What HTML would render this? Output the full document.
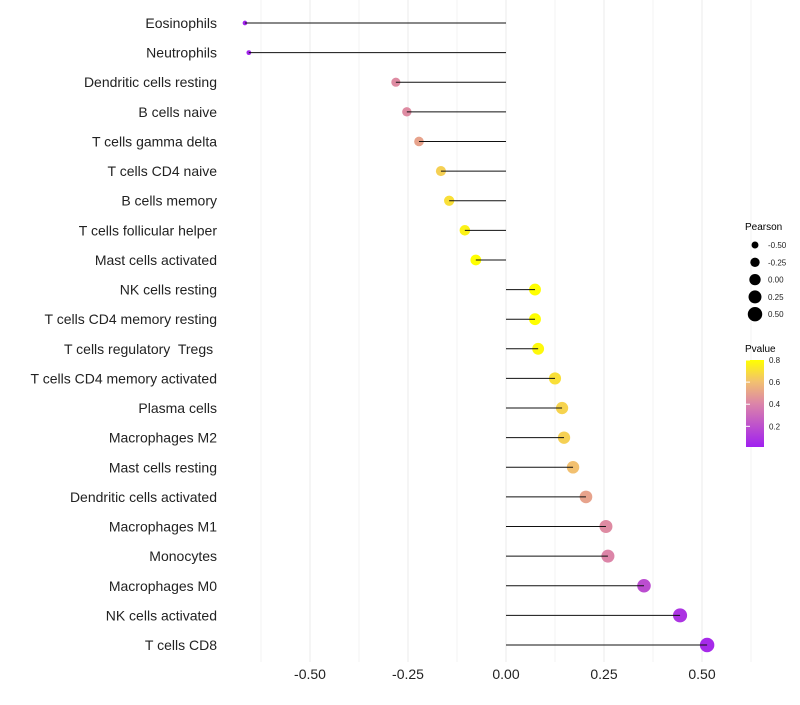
<!DOCTYPE html>
<html><head><meta charset="utf-8"><style>
body{margin:0;background:#fff;font-family:"Liberation Sans",sans-serif}
</style></head><body>
<svg id="chart" width="800" height="700" xmlns="http://www.w3.org/2000/svg" style="font-family:'Liberation Sans',sans-serif">
<g id="grid"></g>
<g id="marks"></g>
<g id="ylabels"></g>
<g id="xlabels"></g>
<g id="legend">
<text x="745" y="230" font-size="10">Pearson</text>
<text x="745" y="352" font-size="10">Pvalue</text>
<defs><linearGradient id="pg" x1="0" y1="1" x2="0" y2="0">
<stop offset="0" stop-color="#a020f0"/><stop offset="0.5" stop-color="#dc85a8"/><stop offset="0.75" stop-color="#f2c070"/><stop offset="1" stop-color="#ffff00"/></linearGradient></defs>
<rect x="746" y="360" width="18" height="87" fill="url(#pg)"/>
</g>
</svg>
<script>
const cells=["Eosinophils","Neutrophils","Dendritic cells resting","B cells naive","T cells gamma delta","T cells CD4 naive","B cells memory","T cells follicular helper","Mast cells activated","NK cells resting","T cells CD4 memory resting","T cells regulatory  Tregs ","T cells CD4 memory activated","Plasma cells","Macrophages M2","Mast cells resting","Dendritic cells activated","Macrophages M1","Monocytes","Macrophages M0","NK cells activated","T cells CD8"];
const pearson=[-0.666,-0.656,-0.281,-0.253,-0.222,-0.166,-0.145,-0.105,-0.077,0.074,0.074,0.082,0.125,0.143,0.148,0.171,0.204,0.255,0.260,0.352,0.444,0.513];
const pvalue=[0.01,0.02,0.42,0.42,0.5,0.65,0.7,0.76,0.8,0.8,0.8,0.78,0.7,0.66,0.65,0.6,0.5,0.42,0.4,0.18,0.08,0.04];
const xTicks=[-0.5,-0.25,0,0.25,0.5];
const xTickLabels=["-0.50","-0.25","0.00","0.25","0.50"];
const legendPearson=[-0.5,-0.25,0,0.25,0.5];
const legendPearsonLabels=["-0.50","-0.25","0.00","0.25","0.50"];
const legendP=[0.2,0.4,0.6,0.8];
const legendPLabels=["0.2","0.4","0.6","0.8"];
const NS="http://www.w3.org/2000/svg";
const x=v=>506+v*392;
const y=i=>23+i*(622/21);
const r=v=>Math.sqrt(Math.max(32+40*v,3));
const py=p=>447-(p-0.013)*(87/0.787);
function col(p){const s=[[0,[160,32,240]],[0.4,[220,133,168]],[0.6,[242,192,112]],[0.8,[255,255,0]]];
 p=Math.max(0,Math.min(0.8,p));for(let k=1;k<s.length;k++){if(p<=s[k][0]){const t=(p-s[k-1][0])/(s[k][0]-s[k-1][0]);const c=s[k-1][1].map((a,j)=>Math.round(a+(s[k][1][j]-a)*t));return`rgb(${c})`;}}return"rgb(255,255,0)";}
function mk(tag,at,parent){const e=document.createElementNS(NS,tag);for(const k in at)e.setAttribute(k,at[k]);document.getElementById(parent).appendChild(e);return e;}
for(let v=-0.625;v<=0.626;v+=0.125){
 const g=mk("line",{x1:x(v),x2:x(v),y1:0,y2:662,stroke:"#ebebeb","stroke-width":Math.abs(v*4-Math.round(v*4))<1e-6?1:0.6},"grid");
 
 
}
xTicks.forEach((v,i)=>{const t=mk("text",{x:x(v),y:679,"font-size":14,"text-anchor":"middle",fill:"#222"},"xlabels");t.textContent=xTickLabels[i];
 
 });
cells.forEach((c,i)=>{
 const t=mk("text",{x:217,y:y(i)+5,"font-size":14,"text-anchor":"end",fill:"#222","xml:space":"preserve"},"ylabels");t.style.whiteSpace="pre";t.textContent=c;
 
 
 const cc=mk("circle",{cx:x(pearson[i]),cy:y(i),r:r(pearson[i]),fill:col(pvalue[i])},"marks");
 
 
 const l=mk("line",{x1:x(0),x2:x(pearson[i]),y1:y(i),y2:y(i),stroke:"#111","stroke-width":1},"marks");
 
 
});
legendPearson.forEach((v,i)=>{const yy=245+i*17.3;
 const c=mk("circle",{cx:755,cy:yy,r:r(v),fill:"#000"},"legend");
 
 
 const t=mk("text",{x:768,y:yy+3,"font-size":8,fill:"#222"},"legend");t.textContent=legendPearsonLabels[i];
 
 });
legendP.forEach((p,i)=>{const yy=py(p);
 const t=mk("text",{x:769,y:yy+3,"font-size":8,fill:"#222"},"legend");t.textContent=legendPLabels[i];
 
 
 const l=mk("line",{x1:746,x2:750,y1:yy,y2:yy,stroke:"#fff"},"legend");
 
 });
</script>
</body></html>
